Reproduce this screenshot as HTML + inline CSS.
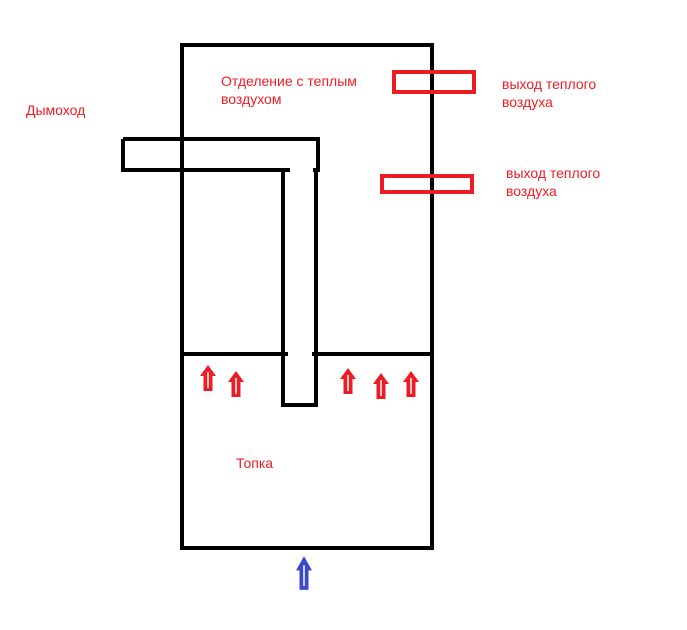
<!DOCTYPE html>
<html><head><style>
body{margin:0;width:687px;height:630px;background:#fff;overflow:hidden}
svg{position:absolute;left:0;top:0}
</style></head><body>
<svg width="687" height="630" xmlns="http://www.w3.org/2000/svg">
<defs>
<g id="ar"><path d="M0,-13 L8,-2 L4.5,-2 L4.5,13 L-4.5,13 L-4.5,-2 L-8,-2 Z"/><line x1="0" y1="-6" x2="0" y2="10" stroke="#fff" stroke-width="1.5"/></g>
</defs>
<g fill="none" stroke="#000" stroke-width="4">
<rect x="182" y="45" width="250" height="503"/>
<path d="M123,139 H318 V170"/>
<path d="M123,139 V170 H290"/>
<path d="M313,170 H320"/>
<path d="M283,170 V405 H316 V170"/>
<path d="M184,354 H288 M312,354 H430"/>
</g>
<g fill="none" stroke="#ed1c24" stroke-width="4">
<rect x="394" y="72" width="80" height="20"/>
<rect x="382" y="176" width="90" height="16"/>
</g>
<g fill="#ed1c24">
<use href="#ar" transform="translate(208,378)"/>
<use href="#ar" transform="translate(236,384)"/>
<use href="#ar" transform="translate(348,381)"/>
<use href="#ar" transform="translate(381,386)"/>
<use href="#ar" transform="translate(411,384)"/>
</g>
<g fill="#3f48cc"><use href="#ar" transform="translate(304,573) scale(1,1.3)"/></g>
<g fill="#ed1c24" font-family="Liberation Sans, sans-serif" font-size="14">
<text x="26" y="115">Дымоход</text>
<text x="221" y="86">Отделение с теплым</text>
<text x="221" y="104">воздухом</text>
<text x="502" y="89">выход теплого</text>
<text x="502" y="107">воздуха</text>
<text x="506" y="178">выход теплого</text>
<text x="506" y="196">воздуха</text>
<text x="236" y="468">Топка</text>
</g>
</svg>
</body></html>
